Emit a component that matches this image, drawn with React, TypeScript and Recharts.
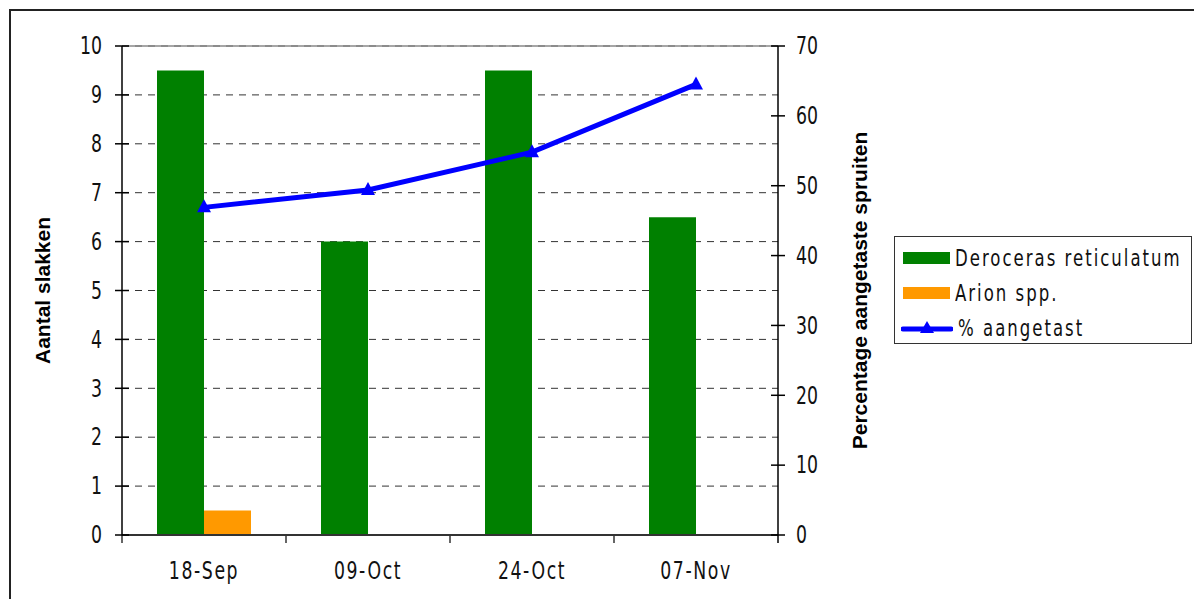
import React from 'react'
import {
  ComposedChart, Bar, Line, XAxis, YAxis, CartesianGrid, ReferenceLine, Label,
} from 'recharts'

const categories = ['18-Sep', '09-Oct', '24-Oct', '07-Nov']
const deroceras = [9.5, 6, 9.5, 6.5]
const arion = [0.5, 0, 0, 0]
const aangetast = [46.9, 49.4, 54.8, 64.5]
const slakkenTicks = [0, 1, 2, 3, 4, 5, 6, 7, 8, 9, 10]
const percentTicks = [0, 10, 20, 30, 40, 50, 60, 70]

const series = [
  { key: 'deroceras', name: 'Deroceras reticulatum', color: '#008000', kind: 'bar' },
  { key: 'arion', name: 'Arion spp.', color: '#FF9900', kind: 'bar' },
  { key: 'aangetast', name: '% aangetast', color: '#0000FF', kind: 'line' },
]

const data = categories.map((label, i) => ({
  label,
  deroceras: deroceras[i],
  arion: arion[i],
  aangetast: aangetast[i],
}))

const W = 1194
const H = 599
const MARGIN = { top: 46, right: 356, bottom: 34, left: 62 }
const AXIS_W = 60
const PLOT_W = W - MARGIN.left - MARGIN.right - 2 * AXIS_W

const tickFont = "'DejaVu Sans Condensed', 'DejaVu Sans', sans-serif"
const titleFont = "'Liberation Sans', Arial, sans-serif"
const SQUEEZE = 0.8

// tall, narrow lettering: condensed font squeezed horizontally
const NarrowText = ({ x, y, anchor, children, spacing = 0 }: any) => (
  <text transform={`translate(${x} ${y}) scale(${SQUEEZE} 1)`} textAnchor={anchor}
    dominantBaseline="central" fontFamily={tickFont} fontSize={24} letterSpacing={spacing} fill="#111">
    {children}
  </text>
)

const LeftTick = (props: any) => {
  const { x, y, payload } = props
  return (
    <g>
      <line x1={x - 7} x2={x + 7} y1={y} y2={y} stroke="#000" strokeWidth={1.5} />
      <NarrowText x={x - 20} y={y} anchor="end">{payload.value}</NarrowText>
    </g>
  )
}

const RightTick = (props: any) => {
  const { x, y, payload } = props
  return (
    <g>
      <line x1={x - 7} x2={x + 7} y1={y} y2={y} stroke="#000" strokeWidth={1.5} />
      <NarrowText x={x + 18} y={y} anchor="start">{payload.value}</NarrowText>
    </g>
  )
}

// Excel-style category axis: tick marks sit on the band edges, labels in the middle
const CategoryTick = (props: any) => {
  const { x, y, payload, index, visibleTicksCount } = props
  const half = payload.offset || PLOT_W / categories.length / 2
  const last = index === visibleTicksCount - 1
  return (
    <g>
      <line x1={x - half} x2={x - half} y1={y} y2={y + 8} stroke="#333" strokeWidth={1.5} />
      {last && <line x1={x + half} x2={x + half} y1={y} y2={y + 8} stroke="#000" strokeWidth={1.5} />}
      <NarrowText x={x} y={y + 36} anchor="middle" spacing={2}>{payload.value}</NarrowText>
    </g>
  )
}

const Triangle = (props: any) => {
  const { cx, cy } = props
  if (cx == null || cy == null) return null
  return <polygon points={`${cx},${cy - 8} ${cx - 7},${cy + 5} ${cx + 7},${cy + 5}`} fill="#0000FF" />
}

const AxisTitle = ({ viewBox, value, dx }: any) => {
  const cx = viewBox.x + dx
  const cy = viewBox.y + viewBox.height / 2
  return (
    <text x={cx} y={cy} transform={`rotate(-90 ${cx} ${cy})`} textAnchor="middle"
      dominantBaseline="central" fontFamily={titleFont} fontWeight="bold" fontSize={21} fill="#000">
      {value}
    </text>
  )
}

function LegendBox() {
  return (
    <div style={{
      position: 'absolute', left: 894, top: 236, width: 298, height: 108,
      border: '1px solid #333', background: '#fff', boxSizing: 'border-box',
    }}>
      {series.map((s, i) => (
        <div key={s.key} style={{
          position: 'absolute', left: 0, top: 3 + 35 * i, height: 35,
          display: 'flex', alignItems: 'center',
        }}>
          {s.kind === 'bar' ? (
            <div style={{ marginLeft: 8, width: 47, height: 12, background: s.color }} />
          ) : (
            <svg width={52} height={16} style={{ marginLeft: 6, display: 'block' }}>
              <line x1={2} x2={50} y1={9} y2={9} stroke={s.color} strokeWidth={5} strokeLinecap="round" />
              <polygon points="26,1 19,13 33,13" fill={s.color} />
            </svg>
          )}
          <span style={{
            marginLeft: 5, fontFamily: tickFont, fontSize: 23, letterSpacing: 2.5,
            color: '#111', whiteSpace: 'nowrap', display: 'inline-block',
            transform: `scaleX(${SQUEEZE})`, transformOrigin: 'left center',
          }}>{s.name}</span>
        </div>
      ))}
    </div>
  )
}

export default function App() {
  return (
    <div style={{ position: 'absolute', left: 0, top: 0, width: W, height: H, overflow: 'hidden', background: '#fff' }}>
      <div style={{
        position: 'absolute', left: 9, top: 9, width: W + 20, height: H + 20,
        border: '2px solid #222', boxSizing: 'border-box',
      }} />
      <div style={{ position: 'absolute', left: 0, top: 0 }}>
        <ComposedChart width={W} height={H} data={data} margin={MARGIN} barGap={0}>
          <CartesianGrid yAxisId="left" vertical={false} stroke="#333" strokeDasharray="7 6" />
          <XAxis dataKey="label" height={30} tickLine={false} tickSize={0} tickMargin={0}
            axisLine={{ stroke: '#333', strokeWidth: 2 }} tick={<CategoryTick />} interval={0} />
          <YAxis yAxisId="left" domain={[0, 10]} ticks={slakkenTicks} width={AXIS_W}
            tickLine={false} tickSize={0} tickMargin={0} interval={0}
            axisLine={{ stroke: '#000', strokeWidth: 1.5 }} tick={<LeftTick />}>
            <Label content={(p: any) => <AxisTitle {...p} value="Aantal slakken" dx={-20} />} />
          </YAxis>
          <YAxis yAxisId="right" orientation="right" domain={[0, 70]} ticks={percentTicks} width={AXIS_W}
            tickLine={false} tickSize={0} tickMargin={0} interval={0}
            axisLine={{ stroke: '#000', strokeWidth: 1.5 }} tick={<RightTick />}>
            <Label content={(p: any) => <AxisTitle {...p} value="Percentage aangetaste spruiten" dx={81} />} />
          </YAxis>
          <ReferenceLine yAxisId="left" y={10} stroke="#888" strokeWidth={1.5} />
          <Bar yAxisId="left" dataKey="deroceras" name="Deroceras reticulatum" fill="#008000"
            barSize={47} isAnimationActive={false} />
          <Bar yAxisId="left" dataKey="arion" name="Arion spp." fill="#FF9900"
            barSize={47} isAnimationActive={false} />
          <Line yAxisId="right" type="linear" dataKey="aangetast" name="% aangetast" stroke="#0000FF"
            strokeWidth={5} dot={<Triangle />} activeDot={false} isAnimationActive={false} />
        </ComposedChart>
      </div>
      <LegendBox />
    </div>
  )
}
